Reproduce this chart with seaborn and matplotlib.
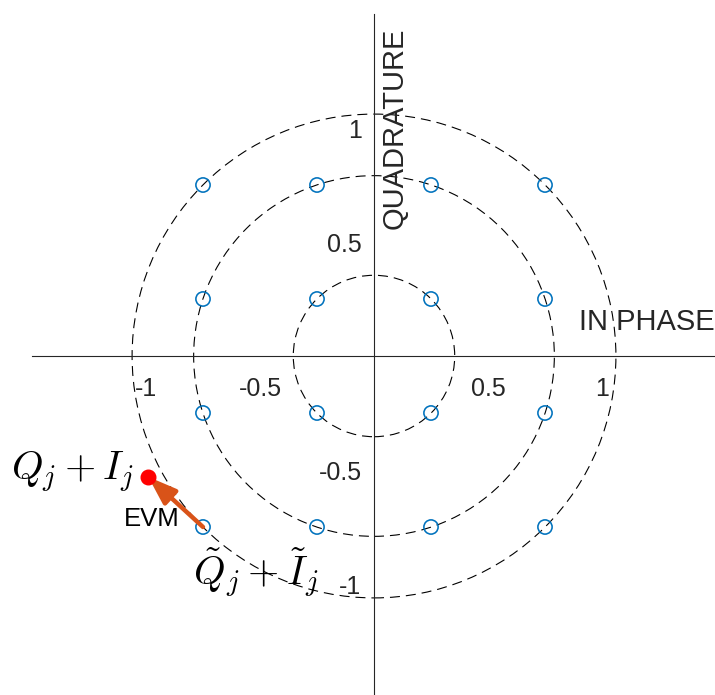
import matplotlib
matplotlib.use("Agg")
import matplotlib.pyplot as plt
from matplotlib.patches import Circle
import numpy as np
import pandas as pd
import seaborn as sns

# 16-QAM reference constellation (in-phase, quadrature)
in_phase = [-0.75, -0.75, -0.75, -0.75,
            -0.25, -0.25, -0.25, -0.25,
            0.25, 0.25, 0.25, 0.25,
            0.75, 0.75, 0.75, 0.75]
quadrature = [-0.75, -0.25, 0.25, 0.75,
              -0.75, -0.25, 0.25, 0.75,
              -0.75, -0.25, 0.25, 0.75,
              -0.75, -0.25, 0.25, 0.75]

# constant-amplitude rings through the symbol groups
ring_radii = [0.354, 0.791, 1.061]

# ideal symbol and the received (measured) symbol
ideal_point = (-0.75, -0.75)
received_point = (-0.99, -0.53)

tick_values = [-1.5, -1.0, -0.5, 0.5, 1.0, 1.5]
tick_labels = ["", "-1", "-0.5", "0.5", "1", ""]

sns.set_theme(style="white")
plt.rcParams["font.family"] = ["Liberation Sans", "DejaVu Sans"]
plt.rcParams["mathtext.fontset"] = "cm"
plt.rcParams["lines.scale_dashes"] = False

axis_color = "#262626"
marker_blue = "#0072BD"
arrow_orange = "#D95319"

fig = plt.figure(figsize=(7.15, 6.95), dpi=100)
ax = fig.add_axes([32 / 715, -3 / 695, 684 / 715, 684 / 695])
ax.set_facecolor("none")

for r in ring_radii:
    ring = Circle((0, 0), r, fill=False, edgecolor="black", linewidth=0.8,
                  linestyle=(0, (7.2, 4.3)), zorder=2)
    ax.add_patch(ring)

points = pd.DataFrame({"I": in_phase, "Q": quadrature})
sns.scatterplot(data=points, x="I", y="Q", ax=ax, marker="o", s=105,
                facecolor="none", edgecolor=marker_blue, linewidth=1.15,
                zorder=3, legend=False)

ax.annotate("", xy=received_point, xytext=ideal_point,
            arrowprops=dict(arrowstyle="-|>,head_length=0.85,head_width=0.3",
                            color=arrow_orange, lw=3.2, mutation_scale=20,
                            shrinkA=0, shrinkB=0),
            zorder=4)
ax.plot([received_point[0]], [received_point[1]], "o", color="red",
        markersize=10.5, zorder=5)

ax.set_xlim(-1.5, 1.5)
ax.set_ylim(-1.5, 1.5)
ax.set_xlabel("")
ax.set_ylabel("")

for side in ("top", "right"):
    ax.spines[side].set_visible(False)
for side in ("left", "bottom"):
    ax.spines[side].set_position(("data", 0))
    ax.spines[side].set_color(axis_color)
    ax.spines[side].set_linewidth(0.8)

ax.set_xticks(tick_values)
ax.set_xticklabels(tick_labels)
ax.set_yticks(tick_values)
ax.set_yticklabels(tick_labels)
ax.tick_params(axis="both", direction="in", length=5, width=0.8,
               color=axis_color, labelcolor=axis_color, labelsize=18)
ax.tick_params(axis="x", pad=15)
ax.tick_params(axis="y", pad=9)

ax.text(0.092, 1.0, "QUADRATURE", rotation=90, ha="center", va="center",
        fontsize=21, color=axis_color)
ax.text(1.495, 0.147, "IN PHASE", ha="right", va="center",
        fontsize=21, color=axis_color)

ax.text(-1.057, -0.51, r"$Q_j + I_j$", ha="right", va="center",
        fontsize=29, color="black")
ax.text(-1.096, -0.716, "EVM", ha="left", va="center",
        fontsize=18.5, color="black")
ax.text(-0.794, -0.95, r"$\tilde{Q}_j + \tilde{I}_j$", ha="left", va="center",
        fontsize=29, color="black")

fig.savefig("out.png", dpi=100)
